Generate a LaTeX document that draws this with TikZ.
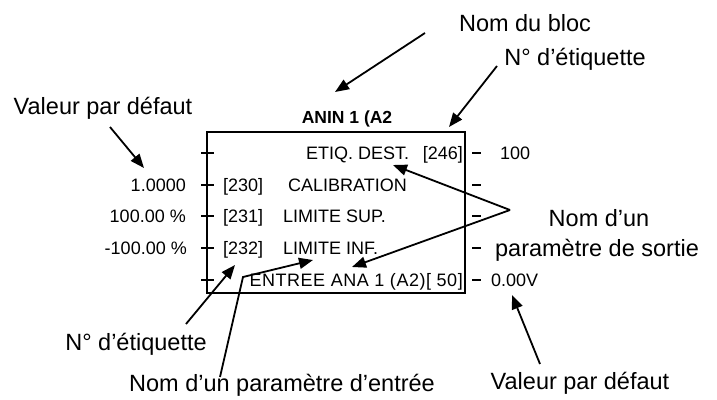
\documentclass[tikz,border=0pt]{standalone}
\usepackage{fontspec}
\setmainfont{Liberation Sans}
\usetikzlibrary{arrows.meta}

\begin{document}
\begin{tikzpicture}[
    x=1pt, y=-1pt,
    note/.style={font=\fontsize{23.5}{28}\selectfont, inner sep=0pt, anchor=base},
    field/.style={font=\fontsize{18}{21}\selectfont, inner sep=0pt},
    line/.style={draw, line width=1.8pt, -{Triangle[length=14pt,width=11pt]}},
    tick/.style={draw, line width=2.5pt}
]
    \useasboundingbox (0,0) rectangle (717,399);

    % Block and its title
    \draw[line width=2.5pt] (207,132) rectangle (465,293);
    \node[field, font=\fontsize{17.5}{21}\selectfont\bfseries, anchor=base] (title) at (347,123) {ANIN 1 (A2};

    % Connection ticks
    \foreach \row in {153,185,216,248,280} {
        \draw[tick] (201,\row) -- (214,\row);
        \draw[tick] (472,\row) -- (481,\row);
    }

    % Parameters inside the block
    \node[field, anchor=base west] (dest) at (306,159.5) {ETIQ. DEST.};
    \node[field, anchor=base east] (tag246) at (463,159.5) {[246]};
    \node[field, anchor=base west] (tag230) at (223,191.5) {[230]};
    \node[field, anchor=base west] (calib) at (288,191.5) {CALIBRATION};
    \node[field, anchor=base west] (tag231) at (223,222.5) {[231]};
    \node[field, anchor=base west] (limSup) at (283,222.5) {LIMITE SUP.};
    \node[field, anchor=base west] (tag232) at (223,254.5) {[232]};
    \node[field, anchor=base west] (limInf) at (283,254.5) {LIMITE INF.};
    \node[field, anchor=base east] (ana) at (463,286.5) {\addfontfeature{LetterSpace=3}ENTREE ANA 1 (A2)[ 50]};

    % Default values
    \node[field, anchor=base east] (valCalib) at (186,191.5) {1.0000};
    \node[field, anchor=base east] (valSup) at (186,222.5) {100.00 \%};
    \node[field, anchor=base east] (valInf) at (187,254.5) {-100.00 \%};
    \node[field, anchor=base west] (valDest) at (500,159.5) {100};
    \node[field, anchor=base west] (valAna) at (491,286.5) {0.00V};

    % Explanations
    \node[note] (bloc) at (525,31.5) {Nom du bloc};
    \node[note] (etiqHaut) at (575,65.5) {N° d’étiquette};
    \node[note] (defGauche) at (103,114.5) {Valeur par défaut};
    \node[note] (sortieA) at (599,226.5) {Nom d’un};
    \node[note] (sortieB) at (597,256.5) {paramètre de sortie};
    \node[note] (etiqBas) at (136,350.5) {N° d’étiquette};
    \node[note] (entree) at (282,391.5) {Nom d’un paramètre d’entrée};
    \node[note] (defDroite) at (580,389.5) {Valeur par défaut};

    % Arrow ends
    \coordinate (blocPied) at (425,33);
    \coordinate (blocPointe) at (335,92);
    \coordinate (etiqHautPied) at (497,66);
    \coordinate (etiqHautPointe) at (449,127);
    \coordinate (defGauchePied) at (110,127);
    \coordinate (defGauchePointe) at (144,168);
    \coordinate (sortiePied) at (510,210);
    \coordinate (destPointe) at (393,165);
    \coordinate (anaPointe) at (352,267);
    \coordinate (defDroitePied) at (540,364);
    \coordinate (defDroitePointe) at (512,295);
    \coordinate (etiqBasPied) at (186,324);
    \coordinate (etiqBasPointe) at (235,265);
    \coordinate (entreePied) at (220,377);
    \coordinate (entreeCoude) at (243,277);
    \coordinate (entreePointe) at (313,260);

    % Paths
    \path[line] (blocPied) -- (blocPointe);
    \path[line] (etiqHautPied) -- (etiqHautPointe);
    \path[line] (defGauchePied) -- (defGauchePointe);
    \path[line] (sortiePied) -- (destPointe);
    \path[line] (sortiePied) -- (anaPointe);
    \path[line] (defDroitePied) -- (defDroitePointe);
    \path[line] (etiqBasPied) -- (etiqBasPointe);
    \path[line] (entreePied) -- (entreeCoude) -- (entreePointe);

\end{tikzpicture}
\end{document}
